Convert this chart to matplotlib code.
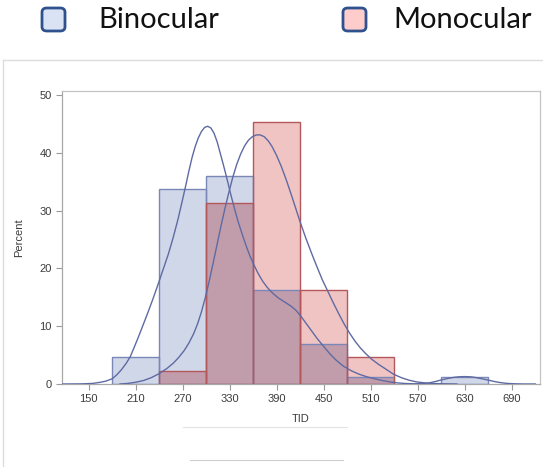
import matplotlib.pyplot as plt
from matplotlib.patches import FancyBboxPatch
from matplotlib.lines import Line2D
import numpy as np

# histogram bins (left edge, width 60) and percent per group
bino_edges = [180, 240, 300, 360, 420, 480, 600]
bino_pct = [4.65, 33.7, 36.05, 16.28, 6.98, 1.16, 1.16]
mono_edges = [240, 300, 360, 420, 480]
mono_pct = [2.33, 31.4, 45.35, 16.28, 4.65]
bin_width = 60

# kernel density curves, read point by point
bino_kde_x = [117, 140, 155, 165, 172, 180, 186, 192, 198, 203, 208, 214, 220, 226, 232,
              239, 245, 252, 258, 264, 269, 274, 278, 282, 286, 290, 294, 298, 302, 306,
              310, 314, 318, 322, 326, 331, 336, 341, 346, 351, 356, 361, 366, 372, 378,
              385, 392, 400, 408, 415, 421, 428, 435, 442, 450, 458, 466, 475, 485, 495,
              505, 515, 525, 535, 545, 555, 565, 575, 585, 593, 600, 608, 616, 623, 630,
              637, 644, 651, 659, 667, 675, 684, 695, 705, 720]
bino_kde_y = [0, 0.02, 0.1, 0.3, 0.5, 0.9, 1.6, 2.5, 3.6, 4.7, 6.3, 8.3, 10.4, 12.5, 14.7,
              17.4, 19.8, 22.6, 25.4, 28.5, 31.4, 34.4, 36.9, 39.2, 41.1, 42.6, 43.7, 44.4, 44.6, 44.3,
              43.4, 41.9, 39.9, 37.9, 35.8, 33.0, 30.4, 28.0, 25.9, 23.9, 22.1, 20.6, 19.2, 17.8, 16.7,
              15.7, 14.9, 14.2, 13.5, 12.7, 11.7, 10.4, 9.1, 7.8, 6.5, 5.2, 4.1, 3.1, 2.3, 1.7,
              1.25, 0.9, 0.6, 0.35, 0.18, 0.08, 0.04, 0.06, 0.2, 0.45, 0.7, 0.95, 1.15, 1.25, 1.28,
              1.25, 1.12, 0.93, 0.7, 0.45, 0.25, 0.1, 0.03, 0, 0]
mono_kde_x = [190, 200, 210, 220, 230, 240, 250, 258, 265, 272, 278, 284, 289, 294, 299,
              304, 309, 314, 319, 324, 329, 334, 339, 344, 349, 354, 359, 364, 369, 374,
              379, 384, 390, 396, 402, 408, 414, 420, 427, 434, 441, 448, 455, 462, 469,
              476, 483, 490, 497, 504, 512, 520, 529, 539, 549, 559, 569, 580, 592, 605, 620]
mono_kde_y = [0, 0.1, 0.3, 0.6, 1.1, 1.8, 2.7, 3.6, 4.6, 5.8, 7.1, 8.7, 10.4, 12.5, 15.0,
              17.9, 21.0, 24.2, 27.4, 30.4, 33.2, 35.8, 38.0, 39.8, 41.2, 42.2, 42.8, 43.1, 43.1, 42.8,
              42.1, 41.1, 39.5, 37.6, 35.4, 33.0, 30.5, 28.0, 25.3, 22.8, 20.4, 18.1, 16.1, 14.1, 12.2,
              10.4, 8.8, 7.4, 6.2, 5.2, 4.2, 3.4, 2.6, 1.7, 1.1, 0.65, 0.35, 0.18, 0.08, 0.03, 0]

xticks = [150, 210, 270, 330, 390, 450, 510, 570, 630, 690]
yticks = [0, 10, 20, 30, 40, 50]

W, H = 543, 467
fig = plt.figure(figsize=(W / 100, H / 100), dpi=100)
plt.rcParams['font.family'] = ['Liberation Sans', 'DejaVu Sans']

ax = fig.add_axes([62 / W, 1 - 384 / H, (540 - 62) / W, (384 - 91) / H])

bino_face, mono_face, both_face = '#d0d7e8', '#f1c4c4', '#c19dab'
bino_edge, mono_edge = '#7a88b8', '#b4575b'

ax.bar(bino_edges, bino_pct, width=bin_width, align='edge', color=bino_face, lw=0, zorder=2)
ax.bar(mono_edges, mono_pct, width=bin_width, align='edge', color=mono_face, lw=0, zorder=2)
# where both groups fill the same bin, the shared part is darker
shared = {e: p for e, p in zip(bino_edges, bino_pct)}
both_edges = [e for e in mono_edges if e in shared]
both_pct = [min(shared[e], p) for e, p in zip(mono_edges, mono_pct) if e in shared]
ax.bar(both_edges, both_pct, width=bin_width, align='edge', color=both_face, lw=0, zorder=3)
ax.bar(bino_edges, bino_pct, width=bin_width, align='edge', fill=False,
       edgecolor=bino_edge, linewidth=1.0, zorder=4)
ax.bar(mono_edges, mono_pct, width=bin_width, align='edge', fill=False,
       edgecolor=mono_edge, linewidth=1.0, zorder=4)

kde_color = '#5f6aa3'
ax.plot(bino_kde_x, bino_kde_y, color=kde_color, lw=1.0, zorder=5)
ax.plot(mono_kde_x, mono_kde_y, color=kde_color, lw=1.0, zorder=5)

ax.set_xlim(116, 726)
ax.set_ylim(0, 50.7)
ax.set_xticks(xticks)
ax.set_yticks(yticks)
ax.tick_params(colors='#9a9a9a', labelcolor='#3c3c3c', labelsize=8, length=4, width=0.8)
for s in ax.spines.values():
    s.set_color('#c4c4c4')
    s.set_linewidth(0.9)
ax.spines['left'].set_color('#a8a8a8')
ax.spines['bottom'].set_color('#a8a8a8')
ax.set_xlabel('TID', fontsize=8, color='#3c3c3c', labelpad=7)
ax.set_ylabel('Percent', fontsize=8, color='#3c3c3c', labelpad=11)

# legend drawn on top of the figure
leg_font = ['Lato', 'DejaVu Sans']
for x0, face, name, tx in [(42, '#dae3f3', 'Binocular', 98), (343, '#ffcccc', 'Monocular', 393)]:
    box = FancyBboxPatch((x0 / W, 1 - 31 / H), 23 / W, 23 / H,
                         boxstyle='round,pad=0,rounding_size=0.009',
                         transform=fig.transFigure, facecolor=face,
                         edgecolor='#2f528f', linewidth=2.0)
    fig.patches.append(box)
    fig.text(tx / W, 1 - 20 / H, name, fontsize=21, family=leg_font,
             va='center', ha='left', color='#111111')

# faint frame lines around the plot
frame = '#dcdcdc'
fig.lines.append(Line2D([3 / W, 1], [1 - 60 / H, 1 - 60 / H], transform=fig.transFigure, color=frame, lw=1))
fig.lines.append(Line2D([3 / W, 3 / W], [0, 1 - 60 / H], transform=fig.transFigure, color=frame, lw=1))
fig.lines.append(Line2D([183 / W, 347 / W], [1 - 427 / H, 1 - 427 / H], transform=fig.transFigure, color='#e4e4e4', lw=0.8))
fig.lines.append(Line2D([190 / W, 343 / W], [1 - 460 / H, 1 - 460 / H], transform=fig.transFigure, color='#cfcfcf', lw=0.8))

fig.savefig('out.png', dpi=100)
